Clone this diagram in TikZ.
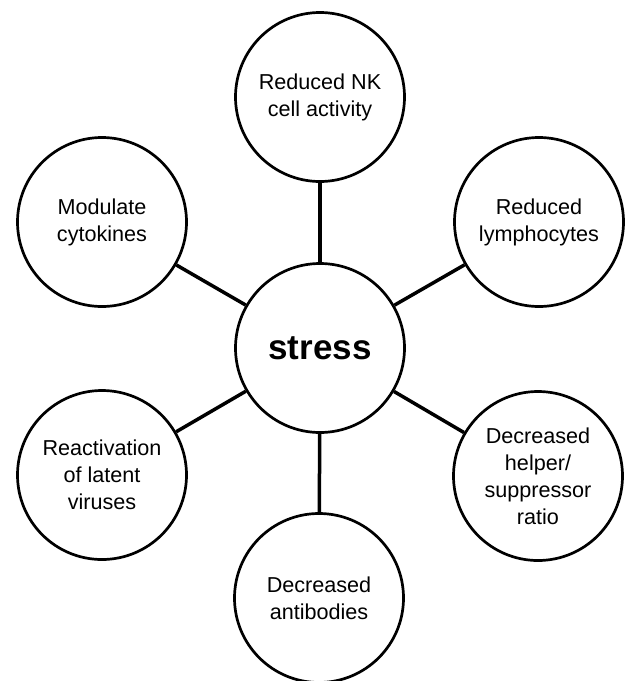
\documentclass[tikz,border=0pt]{standalone}
\usepackage{fontspec}
\setmainfont{Liberation Sans}
\begin{document}
\begin{tikzpicture}[x=1pt,y=-1pt,
  bubble/.style={circle,draw=black,line width=2.7pt,minimum size=169pt,inner sep=0pt,
    align=center,font=\fontsize{21.6}{27}\selectfont},
  hub/.style={bubble,font=\fontsize{35}{40}\selectfont\bfseries},
  link/.style={line width=3.5pt}]
\useasboundingbox (0,0) rectangle (627,681);
\node[hub] (s) at (320,348) {stress};
\node[bubble] (nk) at (320,97) {Reduced NK\\cell activity};
\node[bubble] (mc) at (102,222) {Modulate\\cytokines};
\node[bubble] (rl) at (539,222) {Reduced\\lymphocytes};
\node[bubble] (rv) at (102,475) {Reactivation\\of latent\\viruses};
\node[bubble] (hs) at (538,476) {Decreased\\helper/\\suppressor\\ratio};
\node[bubble] (ab) at (319,598) {Decreased\\antibodies};
\foreach \n in {nk,mc,rl,rv,hs,ab} \draw[link] (s) -- (\n);
\end{tikzpicture}
\end{document}
